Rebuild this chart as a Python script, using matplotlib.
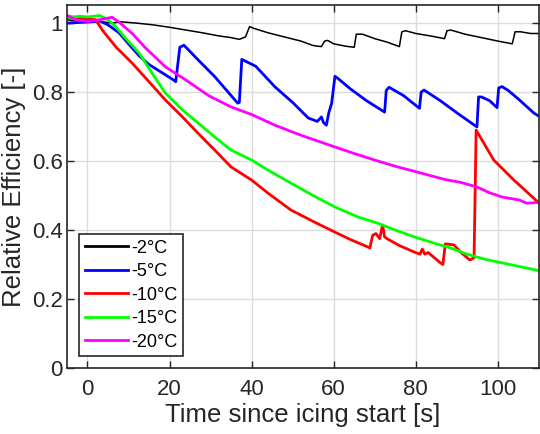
import matplotlib
matplotlib.use('Agg')
import matplotlib.pyplot as plt
import numpy as np

# time since icing start [s] and relative efficiency [-]
t_m2 = [-5, -2, 0, 3, 6, 8, 12, 16, 20, 24, 28, 32, 35, 37, 38.5, 39.5, 40.5, 44, 48, 52, 55, 57,
        57.8, 58.5, 60, 63, 65, 65.5, 67, 70, 73, 76, 76.6, 77.5, 80, 84, 87, 87.6, 88.5, 92, 96,
        100, 103.5, 104.2, 105.5, 108, 110]
e_m2 = [1.01, 1.005, 1.008, 1.005, 1.0, 1.004, 1.0, 0.995, 0.988, 0.98, 0.972, 0.963, 0.958, 0.953,
        0.96, 0.99, 0.985, 0.972, 0.96, 0.948, 0.935, 0.932, 0.948, 0.95, 0.94, 0.933, 0.93, 0.968,
        0.968, 0.955, 0.945, 0.932, 0.975, 0.978, 0.97, 0.962, 0.955, 0.978, 0.98, 0.968, 0.958,
        0.948, 0.94, 0.975, 0.975, 0.97, 0.97]

t_m5 = [-5, -2, 0, 3, 5, 7.7, 10, 12.6, 15, 17.4, 19, 21, 21.5, 22.5, 23.5, 27, 31, 35, 36.6, 37.0,
        37.6, 41, 45.7, 50, 53.8, 56, 57, 57.5, 58.2, 58.8, 59.5, 60.3, 61, 64, 68, 72.4, 72.8, 73.5,
        77, 80.9, 81.3, 82, 86, 90, 94.9, 95.3, 96, 98, 99.8, 100.2, 101, 102.5, 105, 108.7, 110]
e_m5 = [1.0, 1.002, 1.003, 1.006, 0.995, 0.972, 0.94, 0.905, 0.88, 0.862, 0.85, 0.835, 0.83, 0.93,
        0.936, 0.893, 0.845, 0.79, 0.768, 0.77, 0.895, 0.875, 0.815, 0.77, 0.725, 0.715, 0.728,
        0.712, 0.704, 0.74, 0.768, 0.846, 0.84, 0.81, 0.775, 0.742, 0.805, 0.814, 0.79, 0.753, 0.8,
        0.806, 0.775, 0.74, 0.699, 0.786, 0.786, 0.775, 0.755, 0.812, 0.816, 0.805, 0.78, 0.74, 0.73]

t_m10 = [-5, -2, 0, 2, 3.6, 7, 10.9, 15, 19, 23, 27, 31, 35, 40, 44, 49.6, 55, 60.3, 64, 68.3,
         68.8, 69.5, 70.3, 71.2, 71.9, 72.4, 73, 76, 79.7, 81, 81.6, 82.2, 83, 86, 86.6, 87.2,
         89.3, 91, 93.2, 94.2, 94.7, 99, 103.9, 108.7, 110]
e_m10 = [1.02, 1.015, 1.012, 1.01, 0.98, 0.93, 0.884, 0.83, 0.777, 0.73, 0.68, 0.632, 0.583,
         0.545, 0.507, 0.458, 0.425, 0.394, 0.373, 0.351, 0.348, 0.385, 0.39, 0.375, 0.415, 0.38,
         0.375, 0.355, 0.336, 0.33, 0.345, 0.33, 0.335, 0.305, 0.30, 0.36, 0.357, 0.335, 0.313,
         0.32, 0.69, 0.603, 0.545, 0.493, 0.478]

t_m15 = [-5, -2, 0, 3, 5, 7, 9, 12.6, 16, 19, 23, 27, 31, 35, 40, 44, 49.6, 55, 60.3, 65.9, 70.7,
         75, 79.7, 85, 88, 92.5, 97, 101, 105, 109.4, 110]
e_m15 = [1.015, 1.02, 1.018, 1.022, 1.01, 0.988, 0.96, 0.913, 0.85, 0.797, 0.75, 0.71, 0.67,
         0.632, 0.603, 0.574, 0.536, 0.5, 0.467, 0.438, 0.42, 0.40, 0.38, 0.36, 0.35, 0.33, 0.315,
         0.305, 0.295, 0.284, 0.282]

t_m20 = [-5, -3, 0, 3, 6, 8, 10.9, 14, 19, 24, 29.5, 35, 40, 45.7, 52, 60.3, 65, 70, 75, 80.4,
         87, 91, 94.9, 98, 101, 105.3, 107, 110]
e_m20 = [1.023, 1.01, 1.005, 1.01, 1.017, 1.0, 0.97, 0.93, 0.873, 0.835, 0.79, 0.757, 0.735,
         0.704, 0.675, 0.641, 0.622, 0.603, 0.585, 0.568, 0.547, 0.538, 0.525, 0.508, 0.496,
         0.487, 0.478, 0.48]

labels = ['-2°C', '-5°C', '-10°C', '-15°C', '-20°C']
colors = ['black', '#0000ff', '#ff0000', '#00ff00', '#ff00ff']
series = [(t_m2, e_m2), (t_m5, e_m5), (t_m10, e_m10), (t_m15, e_m15), (t_m20, e_m20)]

plt.rcParams['font.family'] = ['Liberation Sans', 'DejaVu Sans']
fig = plt.figure(figsize=(5.4, 4.34), dpi=100)
ax = fig.add_axes([0.124, 0.152, 0.874, 0.836])

for (t, e), lab, c in zip(series, labels, colors):
    lw = 1.1 if c == 'black' else 2.0
    ax.plot(t, e, color=c, lw=lw, label=lab)

ax.set_xlim(-5, 110)
ax.set_ylim(0, 1.052)
ax.set_xticks([0, 20, 40, 60, 80, 100])
ax.set_yticks([0, 0.2, 0.4, 0.6, 0.8, 1])
ax.set_yticklabels(['0', '0.2', '0.4', '0.6', '0.8', '1'])
ax.grid(True, color='#dcdcdc', lw=1)
ax.set_axisbelow(True)
ax.tick_params(direction='in', top=True, right=True, labelsize=16, colors='#262626',
               length=5, width=1)
ax.tick_params(axis='x', pad=8)
ax.tick_params(axis='y', pad=3)
for s in ax.spines.values():
    s.set_color('#262626')
    s.set_linewidth(1.2)
ax.set_xlabel('Time since icing start [s]', fontsize=18.5, color='#262626', labelpad=2)
ax.set_ylabel('Relative Efficiency [-]', fontsize=18.5, color='#262626', labelpad=4)

leg = ax.legend(loc='lower left', bbox_to_anchor=(0.026, 0.033), borderaxespad=0,
                fontsize=13, fancybox=False, framealpha=1, edgecolor='#262626',
                handlelength=2.4, handletextpad=0.2, labelspacing=0.36, borderpad=0.3)
leg.get_frame().set_linewidth(1.2)
for h in leg.get_lines():
    h.set_linewidth(2.0)

fig.savefig('out.png', dpi=100)
